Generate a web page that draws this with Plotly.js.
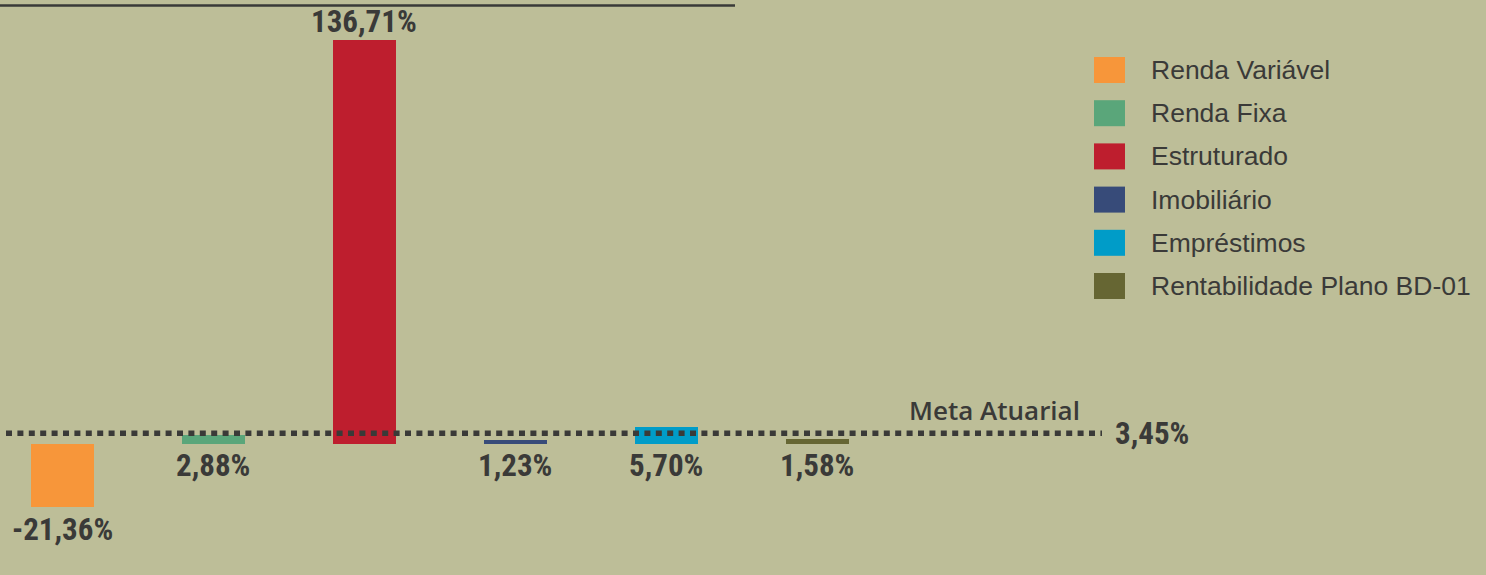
<!DOCTYPE html>
<html><head><meta charset="utf-8">
<script src="https://cdn.plot.ly/plotly-3.0.1.min.js"></script>
<style>html,body{margin:0;padding:0;background:#bdbe98;} #chart{width:1486px;height:575px;}</style>
</head><body><div id="chart"></div>
<script>
// ---- data ----
const categories = ['Renda Variável', 'Renda Fixa', 'Estruturado', 'Imobiliário', 'Empréstimos', 'Rentabilidade Plano BD-01'];
const values = [-21.36, 2.88, 136.71, 1.23, 5.70, 1.58];
const colors = ['#f7963a', '#5aa67a', '#be1e2e', '#374b79', '#009cc8', '#666633'];
const metaLabel = 'Meta Atuarial';
const metaValue = 3.45;

// ---- layout constants ----
const W = 1486, H = 575;
const pxPerUnit = 2.955, zeroPx = 443.5;
const yMax = zeroPx / pxPerUnit, yMin = yMax - H / pxPerUnit;
const step = 151, firstCenter = 62;
const xMin = -firstCenter / step, xMax = xMin + W / step;
const BG = '#bdbe98', TXT = '#3a3a38';
const labelFont = {family: 'Liberation Sans Narrow, Roboto Condensed, DejaVu Sans Condensed, sans-serif', size: 31, color: TXT, weight: 700};
const fmt = v => v.toFixed(2).replace('.', ',') + '%';

const xs = categories.map((c, i) => i);

const trace = {
  type: 'bar', x: xs, y: values, width: 63 / step,
  marker: {color: colors, line: {width: 0}},
  hoverinfo: 'skip', showlegend: false
};

const annotations = [];
const shapes = [];

values.forEach((v, i) => {
  let a = {x: i, xref: 'x', yref: 'y', text: fmt(v), showarrow: false, font: labelFont, xanchor: 'center'};
  if (v < 0) { a.y = v; a.yanchor = 'top'; a.yshift = -2; }
  else if (v > 10 * metaValue) { a.y = v; a.yanchor = 'bottom'; a.yshift = -2; }
  else { a.y = 0; a.yanchor = 'top'; a.yshift = -1; }
  annotations.push(a);
});

// meta line
shapes.push({type: 'line', xref: 'paper', yref: 'y', x0: 6 / W, x1: 1102 / W, y0: metaValue, y1: metaValue,
  line: {color: TXT, width: 5.5, dash: '6px,5.4px'}});
annotations.push({xref: 'paper', yref: 'y', x: 1082 / W, y: metaValue, xanchor: 'right', yanchor: 'bottom', yshift: 3,
  text: metaLabel, showarrow: false, font: {family: 'Open Sans, Lato, sans-serif', size: 26, color: TXT, weight: 600}});
annotations.push({xref: 'paper', yref: 'y', x: 1113 / W, y: metaValue, xanchor: 'left', yanchor: 'middle',
  text: fmt(metaValue), showarrow: false, font: labelFont});

// top rule
shapes.push({type: 'line', xref: 'paper', yref: 'paper', x0: 0, x1: 735 / W, y0: 1 - 5.5 / H, y1: 1 - 5.5 / H,
  line: {color: TXT, width: 2.5}});

// custom legend
categories.forEach((c, i) => {
  const cy = 70 + 43.2 * i;
  shapes.push({type: 'rect', xref: 'paper', yref: 'paper', x0: 1094 / W, x1: 1125 / W,
    y0: 1 - (cy + 13) / H, y1: 1 - (cy - 13) / H, fillcolor: colors[i], line: {width: 0}});
  annotations.push({xref: 'paper', yref: 'paper', x: 1149 / W, y: 1 - cy / H, xanchor: 'left', yanchor: 'middle',
    text: c, showarrow: false, font: {family: 'Liberation Sans, Arial, sans-serif', size: 26.5, color: TXT}});
});

const layout = {
  width: W, height: H, margin: {l: 0, r: 0, t: 0, b: 0, pad: 0},
  paper_bgcolor: BG, plot_bgcolor: BG, showlegend: false,
  xaxis: {range: [xMin, xMax], visible: false, fixedrange: true},
  yaxis: {range: [yMin, yMax], visible: false, fixedrange: true, zeroline: false},
  bargap: 0, shapes: shapes, annotations: annotations
};

Plotly.newPlot('chart', [trace], layout, {staticPlot: true, displayModeBar: false});
</script></body></html>
